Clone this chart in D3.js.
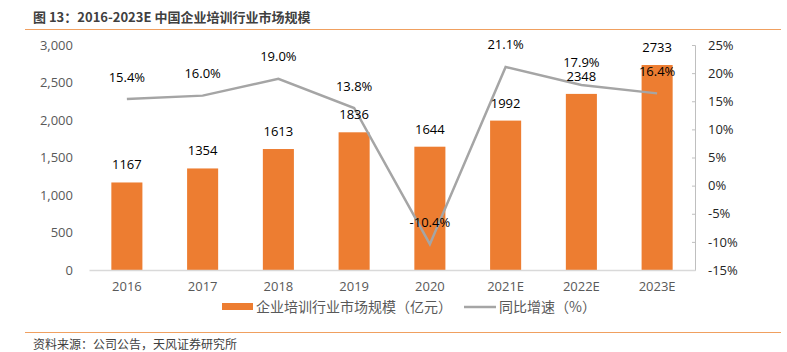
<!DOCTYPE html>
<html>
<head>
<meta charset="utf-8">
<script src="https://cdn.jsdelivr.net/npm/d3@7"></script>
<style>
  body { margin: 0; background: #fff; }
  svg { font-family: "Noto Sans CJK SC", "Open Sans", sans-serif; }
</style>
</head>
<body>
<svg id="chart" width="787" height="352"></svg>
<script>
// data
const years = ["2016", "2017", "2018", "2019", "2020", "2021E", "2022E", "2023E"];
const marketSize = [1167, 1354, 1613, 1836, 1644, 1992, 2348, 2733];
const growth = [15.4, 16.0, 19.0, 13.8, -10.4, 21.1, 17.9, 16.4];
const leftTicks = [0, 500, 1000, 1500, 2000, 2500, 3000];
const rightTicks = [-15, -10, -5, 0, 5, 10, 15, 20, 25];

const svg = d3.select("#chart");
const plot = {left: 89, right: 695, top: 45, bottom: 270};

const x = d3.scaleBand().domain(years).range([plot.left, plot.right])
  .paddingInner(0.59).paddingOuter(0.295);
const yL = d3.scaleLinear().domain([0, 3000]).range([plot.bottom, plot.top]);
const yR = d3.scaleLinear().domain([-15, 25]).range([plot.bottom, plot.top]);
const cx = d => x(d) + x.bandwidth() / 2;

// title + rules
svg.append("text").attr("x", 33).attr("y", 22)
  .attr("font-size", 13).attr("font-weight", "bold").attr("fill", "#404040")
  .text("图 13：2016-2023E 中国企业培训行业市场规模");
svg.append("line").attr("x1", 25).attr("x2", 781).attr("y1", 29.5).attr("y2", 29.5)
  .attr("stroke", "#F0A060").attr("stroke-width", 1.2);
svg.append("line").attr("x1", 25).attr("x2", 781).attr("y1", 332.5).attr("y2", 332.5)
  .attr("stroke", "#F0A060").attr("stroke-width", 1.2);
svg.append("text").attr("x", 33).attr("y", 349)
  .attr("font-size", 12).attr("fill", "#404040")
  .text("资料来源：公司公告，天风证券研究所");

// left axis
const leftAxis = svg.append("g")
  .attr("transform", `translate(${plot.left},0)`)
  .call(d3.axisLeft(yL).tickValues(leftTicks).tickFormat(d3.format(",")).tickSize(0).tickPadding(16));
leftAxis.select(".domain").remove();
leftAxis.selectAll("text").attr("font-size", 13).attr("fill", "#595959")
  .attr("font-family", "'Open Sans', sans-serif");

// right axis
const rightAxis = svg.append("g")
  .attr("transform", `translate(${plot.right},0)`)
  .call(d3.axisLeft(yR).tickValues(rightTicks).tickFormat(d => d + "%").tickSize(3).tickSizeOuter(3));
rightAxis.select(".domain").attr("stroke", "#BFBFBF");
rightAxis.selectAll(".tick line").attr("stroke", "#BFBFBF");
rightAxis.selectAll("text").attr("x", 13).attr("text-anchor", "start")
  .attr("font-size", 13).attr("fill", "#262626")
  .attr("font-family", "'Open Sans', sans-serif");

// bars
svg.append("g").selectAll("rect")
  .data(years)
  .join("rect")
    .attr("x", d => x(d))
    .attr("width", x.bandwidth())
    .attr("y", (d, i) => yL(marketSize[i]))
    .attr("height", (d, i) => plot.bottom - yL(marketSize[i]))
    .attr("fill", "#ED7D31");

// bottom axis
const bottomAxis = svg.append("g")
  .attr("transform", `translate(0,${plot.bottom})`)
  .call(d3.axisBottom(x).tickSize(0).tickPadding(12).tickSizeOuter(0));
bottomAxis.select(".domain").attr("stroke", "#D9D9D9").attr("stroke-width", 1.5);
bottomAxis.selectAll("text").attr("font-size", 13).attr("fill", "#595959")
  .attr("font-family", "'Open Sans', sans-serif");

// growth line
const line = d3.line().x((d, i) => cx(years[i])).y(d => yR(d));
svg.append("path").datum(growth)
  .attr("d", line).attr("fill", "none")
  .attr("stroke", "#A5A5A5").attr("stroke-width", 2.5);

// labels
svg.append("g").selectAll("text")
  .data(years)
  .join("text")
    .attr("x", d => cx(d))
    .attr("y", (d, i) => yL(marketSize[i]) - 13)
    .attr("text-anchor", "middle").attr("font-size", 13).attr("fill", "#000")
    .attr("font-family", "'Open Sans', sans-serif")
    .text((d, i) => marketSize[i]);

svg.append("g").selectAll("text")
  .data(years)
  .join("text")
    .attr("x", d => cx(d))
    .attr("y", (d, i) => yR(growth[i]) - 17.5)
    .attr("text-anchor", "middle").attr("font-size", 13).attr("fill", "#000")
    .attr("font-family", "'Open Sans', sans-serif")
    .text((d, i) => growth[i].toFixed(1) + "%");

// legend
const legend = svg.append("g").attr("font-size", 14).attr("fill", "#595959");
legend.append("rect").attr("x", 222).attr("y", 303).attr("width", 31).attr("height", 7).attr("fill", "#ED7D31");
legend.append("text").attr("x", 256).attr("y", 312).attr("fill", "#595959").text("企业培训行业市场规模（亿元）");
legend.append("line").attr("x1", 464).attr("x2", 496).attr("y1", 307).attr("y2", 307)
  .attr("stroke", "#A5A5A5").attr("stroke-width", 2.5);
legend.append("text").attr("x", 499).attr("y", 312).attr("fill", "#595959").text("同比增速（%）");
</script>
</body>
</html>
